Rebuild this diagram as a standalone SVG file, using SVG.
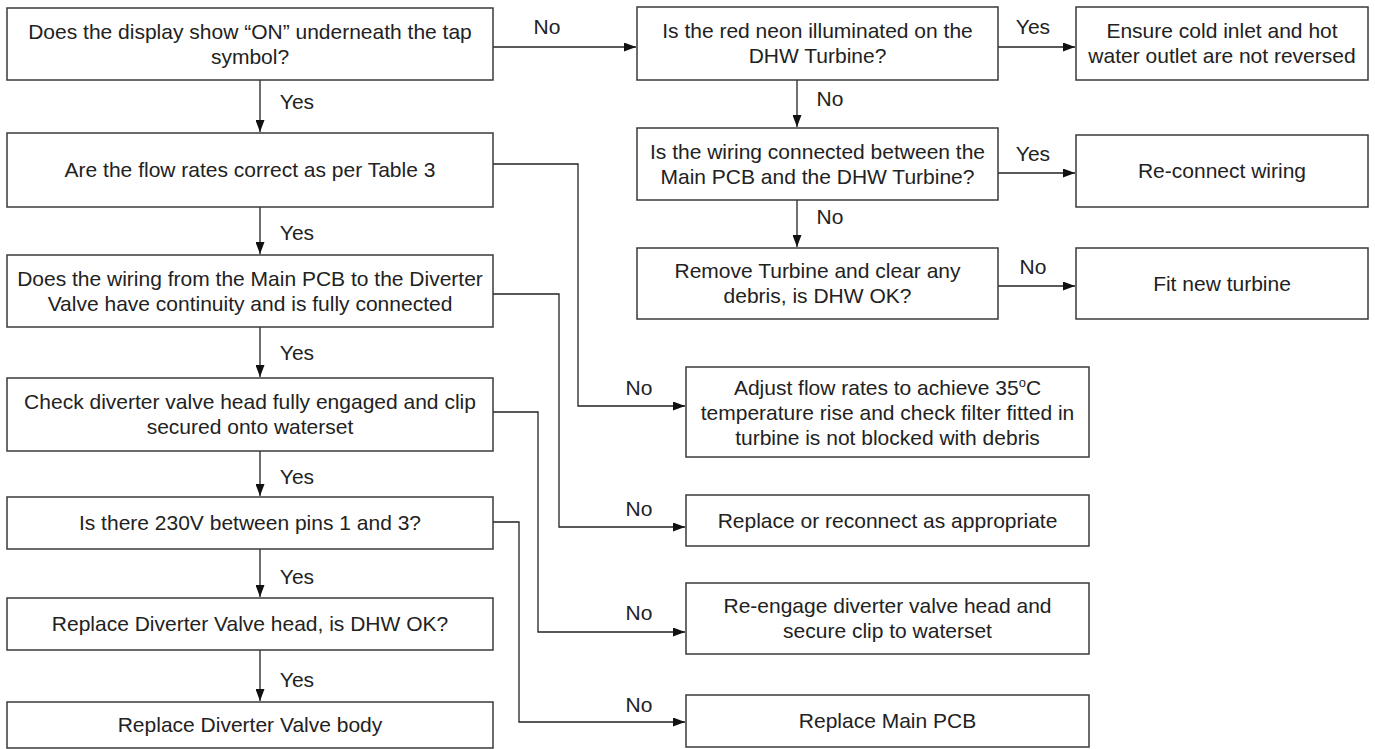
<svg xmlns="http://www.w3.org/2000/svg" width="1375" height="749" viewBox="0 0 1375 749">
<style>
.box{fill:#fff;stroke:#3a3a3a;stroke-width:1.5}
.t{font-family:"Liberation Sans",Arial,sans-serif;font-size:21px;fill:#222;text-anchor:middle}
.l{font-family:"Liberation Sans",Arial,sans-serif;font-size:21px;fill:#222;text-anchor:middle}
.c{fill:none;stroke:#222;stroke-width:1.3}
</style>
<defs>
<marker id="ah" markerUnits="userSpaceOnUse" markerWidth="13" markerHeight="9" refX="12" refY="4.5" orient="auto">
<path d="M0,0 L12,4.5 L0,9 z" fill="#111"/>
</marker>
</defs>
<rect width="1375" height="749" fill="#fff"/>

<g id="connectors">
<path class="c" d="M493,47 H636" marker-end="url(#ah)"/>
<path class="c" d="M998,47 H1075" marker-end="url(#ah)"/>
<path class="c" d="M797,80 V127" marker-end="url(#ah)"/>
<path class="c" d="M998,173 H1075" marker-end="url(#ah)"/>
<path class="c" d="M797,200 V247" marker-end="url(#ah)"/>
<path class="c" d="M998,286 H1075" marker-end="url(#ah)"/>
<path class="c" d="M260,80 V132" marker-end="url(#ah)"/>
<path class="c" d="M260,207 V254" marker-end="url(#ah)"/>
<path class="c" d="M260,327 V377" marker-end="url(#ah)"/>
<path class="c" d="M260,451 V496" marker-end="url(#ah)"/>
<path class="c" d="M260,549 V597" marker-end="url(#ah)"/>
<path class="c" d="M260,650 V701" marker-end="url(#ah)"/>
<path class="c" d="M493,164 H578 V406 H685" marker-end="url(#ah)"/>
<path class="c" d="M493,294 H559 V527 H685" marker-end="url(#ah)"/>
<path class="c" d="M493,412 H538 V632 H685" marker-end="url(#ah)"/>
<path class="c" d="M493,522 H519 V722 H685" marker-end="url(#ah)"/>
<text class="l" x="547" y="34">No</text>
<text class="l" x="1033" y="34">Yes</text>
<text class="l" x="830" y="106">No</text>
<text class="l" x="1033" y="161">Yes</text>
<text class="l" x="830" y="224">No</text>
<text class="l" x="1033" y="274">No</text>
<text class="l" x="297" y="109">Yes</text>
<text class="l" x="297" y="240">Yes</text>
<text class="l" x="297" y="360">Yes</text>
<text class="l" x="297" y="484">Yes</text>
<text class="l" x="297" y="584">Yes</text>
<text class="l" x="297" y="687">Yes</text>
<text class="l" x="639" y="395">No</text>
<text class="l" x="639" y="516">No</text>
<text class="l" x="639" y="620">No</text>
<text class="l" x="639" y="712">No</text>
</g>

<g id="b1"><rect class="box" x="7" y="8" width="486" height="72"/>
<text class="t" x="250" y="38.5">Does the display show “ON” underneath the tap</text>
<text class="t" x="250" y="63.5">symbol?</text></g>
<g id="b2"><rect class="box" x="7" y="133" width="486" height="74"/>
<text class="t" x="250" y="177">Are the flow rates correct as per Table 3</text></g>
<g id="b3"><rect class="box" x="7" y="255" width="486" height="72"/>
<text class="t" x="250" y="285.5">Does the wiring from the Main PCB to the Diverter</text>
<text class="t" x="250" y="310.5">Valve have continuity and is fully connected</text></g>
<g id="b4"><rect class="box" x="7" y="378" width="486" height="73"/>
<text class="t" x="250" y="409">Check diverter valve head fully engaged and clip</text>
<text class="t" x="250" y="434">secured onto waterset</text></g>
<g id="b5"><rect class="box" x="7" y="497" width="486" height="52"/>
<text class="t" x="250" y="530">Is there 230V between pins 1 and 3?</text></g>
<g id="b6"><rect class="box" x="7" y="598" width="486" height="52"/>
<text class="t" x="250" y="631">Replace Diverter Valve head, is DHW OK?</text></g>
<g id="b7"><rect class="box" x="7" y="702" width="486" height="46"/>
<text class="t" x="250" y="732">Replace Diverter Valve body</text></g>

<g id="r1"><rect class="box" x="637" y="7" width="361" height="73"/>
<text class="t" x="817.5" y="38">Is the red neon illuminated on the</text>
<text class="t" x="817.5" y="63">DHW Turbine?</text></g>
<g id="r1b"><rect class="box" x="1076" y="7" width="292" height="73"/>
<text class="t" x="1222" y="38">Ensure cold inlet and hot</text>
<text class="t" x="1222" y="63">water outlet are not reversed</text></g>
<g id="r2"><rect class="box" x="637" y="128" width="361" height="72"/>
<text class="t" x="817.5" y="158.5">Is the wiring connected between the</text>
<text class="t" x="817.5" y="183.5">Main PCB and the DHW Turbine?</text></g>
<g id="r2b"><rect class="box" x="1076" y="135" width="292" height="72"/>
<text class="t" x="1222" y="178">Re-connect wiring</text></g>
<g id="r3"><rect class="box" x="637" y="248" width="361" height="71"/>
<text class="t" x="817.5" y="278">Remove Turbine and clear any</text>
<text class="t" x="817.5" y="303">debris, is DHW OK?</text></g>
<g id="r3b"><rect class="box" x="1076" y="248" width="292" height="71"/>
<text class="t" x="1222" y="290.5">Fit new turbine</text></g>

<g id="a1"><rect class="box" x="686" y="367" width="403" height="90"/>
<text class="t" x="887.5" y="395">Adjust flow rates to achieve 35<tspan font-size="13" dy="-8">o</tspan><tspan dy="8">C</tspan></text>
<text class="t" x="887.5" y="420">temperature rise and check filter fitted in</text>
<text class="t" x="887.5" y="445">turbine is not blocked with debris</text></g>
<g id="a2"><rect class="box" x="686" y="495" width="403" height="51"/>
<text class="t" x="887.5" y="527.5">Replace or reconnect as appropriate</text></g>
<g id="a3"><rect class="box" x="686" y="583" width="403" height="71"/>
<text class="t" x="887.5" y="613">Re-engage diverter valve head and</text>
<text class="t" x="887.5" y="638">secure clip to waterset</text></g>
<g id="a4"><rect class="box" x="686" y="695" width="403" height="52"/>
<text class="t" x="887.5" y="728">Replace Main PCB</text></g>
</svg>
